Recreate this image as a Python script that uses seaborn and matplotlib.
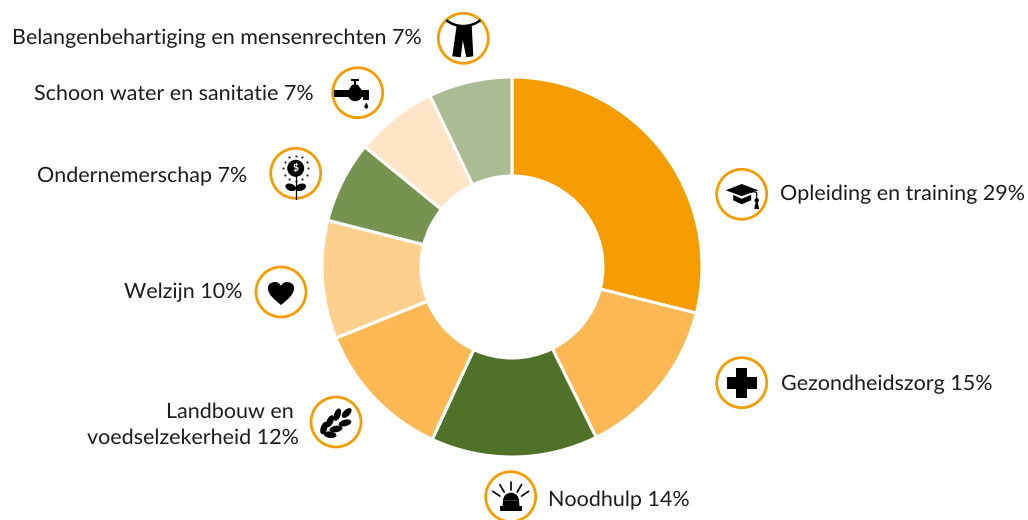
import numpy as np
import matplotlib
matplotlib.use("Agg")
import matplotlib.pyplot as plt
from matplotlib.patches import Circle, Polygon, Rectangle, Ellipse, Wedge, PathPatch
from matplotlib.path import Path
import seaborn as sns

categories = ["Opleiding en training", "Gezondheidszorg", "Noodhulp",
              "Landbouw en\nvoedselzekerheid", "Welzijn", "Ondernemerschap",
              "Schoon water en sanitatie", "Belangenbehartiging en mensenrechten"]
shown_pct = [29, 15, 14, 12, 10, 7, 7, 7]
shares = [28.9, 13.8, 14.2, 12.0, 10.05, 6.95, 7.0, 7.1]
colors = ["#F59D00", "#FBB853", "#4F7228", "#FBB853", "#FDD08E", "#76934F", "#FEE5C8", "#ABBB93"]
RING = "#F59D00"

sns.set_theme(style="white")
plt.rcParams["font.family"] = ["Lato", "DejaVu Sans"]
plt.rcParams["text.hinting"] = "no_hinting"
W, H = 1028, 520
fig = plt.figure(figsize=(W / 100, H / 100), dpi=100)

cx, cy, R = 512, 267, 190
ax = fig.add_axes([(cx - R) / W, 1 - (cy + R) / H, 2 * R / W, 2 * R / H])
ax.pie(shares, colors=sns.color_palette(colors), startangle=90, counterclock=False, radius=1,
       wedgeprops=dict(width=99 / 190, edgecolor="white", linewidth=2.2))
ax.set_xlim(-1, 1); ax.set_ylim(-1, 1)

ov = fig.add_axes([0, 0, 1, 1], facecolor="none")
ov.set_xlim(0, W); ov.set_ylim(H, 0); ov.axis("off")

FS = 15.47
TC = "#1c1c1c"
labels = [
    (780, 194.5, "left", f"{categories[0]} {shown_pct[0]}%"),
    (781, 384, "left", f"{categories[1]} {shown_pct[1]}%"),
    (548, 500, "left", f"{categories[2]} {shown_pct[2]}%"),
    (299, 425, "right", f"{categories[3]} {shown_pct[3]}%"),
    (242, 292, "right", f"{categories[4]} {shown_pct[4]}%"),
    (247, 176, "right", f"{categories[5]} {shown_pct[5]}%"),
    (314, 94, "right", f"{categories[6]} {shown_pct[6]}%"),
    (422, 38.5, "right", f"{categories[7]} {shown_pct[7]}%"),
]
for x, y, ha, s in labels:
    if "\n" in s:
        a, b = s.split("\n")
        ov.text(294, y - 13, a, ha="right", va="center", fontsize=FS, color=TC)
        ov.text(x, y + 13, b, ha=ha, va="center", fontsize=FS, color=TC)
    else:
        ov.text(x, y, s, ha=ha, va="center", fontsize=FS, color=TC)

centers = dict(grad=(741.7, 194.3), cross=(741.7, 382.7), siren=(510.7, 496.7), wheat=(336, 422),
               heart=(281, 292), flower=(295.7, 173.3), tap=(357.7, 92.7), scarf=(463.3, 38.3))
for c in centers.values():
    ov.add_patch(Circle(c, 25, fc="white", ec=RING, lw=2))
K = "black"
def poly(pts, c=K):
    ov.add_patch(Polygon(pts, closed=True, fc=c, ec="none"))
def rect(x0, y0, x1, y1, c=K):
    ov.add_patch(Rectangle((x0, y0), x1 - x0, y1 - y0, fc=c, ec="none"))

# graduation cap
x, y = centers["grad"]
poly([(x-16, y-4), (x, y-10.3), (x+16.6, y-4), (x, y+1.8)])
poly([(x-8.5, y+0.5), (x, y+4.5), (x+9.5, y+0.5), (x+9.5, y+6), (x, y+10), (x-8.5, y+6)])
ov.plot([x+3, x+15, x+15], [y-3.5, y-2, y+6], color=K, lw=0.8)
ov.add_patch(Circle((x+15, y+6), 2.2, fc=K, ec="none"))
poly([(x+14.2, y+7), (x+15.8, y+7), (x+17.5, y+14.7), (x+12.5, y+14.7)])

# cross
x, y = centers["cross"]
rect(x-5.7, y-15, x+5.7, y+15); rect(x-15, y-6, x+15, y+6)

# siren
x, y = centers["siren"]
rect(x-10.7, y+9.3, x+11.7, y+14.3)
ov.add_patch(Wedge((x+0.3, y+4), 8, 180, 360, fc=K, ec="none"))
poly([(x-7.7, y+4), (x+8.3, y+4), (x+8.8, y+9.5), (x-8.2, y+9.5)])
for a in (-56, -30, 0, 30, 56):
    t = np.radians(a)
    r0, r1 = 13, 21.7
    ov.plot([x+r0*np.sin(t), x+r1*np.sin(t)], [y+6.7-r0*np.cos(t), y+6.7-r1*np.cos(t)], color=K, lw=1.2)

# wheat
x, y = centers["wheat"]
for dx, dy, a, w in [(10.7, -9, -45, 12), (1.3, -7.3, -70, 13), (9, 1, -15, 13), (-6, -0.7, -65, 13),
                     (0, 7, -10, 13), (-12, 6, -70, 13), (-6, 12.7, 8, 13)]:
    ov.add_patch(Ellipse((x+dx, y+dy), w, 6.5, angle=a, fc=K, ec="none"))

# heart
x, y = centers["heart"]
heart = Path([(x, y+13), (x-6, y+8), (x-13, y+3), (x-13, y-4), (x-13, y-9), (x-8, y-10), (x-6, y-10),
              (x-3, y-10), (x-1, y-8), (x, y-6), (x+1, y-8), (x+3, y-10), (x+6, y-10),
              (x+8, y-10), (x+13, y-9), (x+13, y-4), (x+13, y+3), (x+6, y+8), (x, y+13)],
             [Path.MOVETO] + [Path.CURVE4] * 18)
ov.add_patch(PathPatch(heart, fc=K, ec="none"))

# flower with coin
x, y = centers["flower"]
ov.add_patch(Circle((x, y-5), 8.5, fc=K, ec="none"))
ov.text(x, y-5, "$", ha="center", va="center", color="white", fontsize=7.5, fontweight="bold")
for a in np.arange(0, 360, 30):
    t = np.radians(a)
    ov.plot([x+12.5*np.cos(t)], [y-5+12.5*np.sin(t)], ".", color=K, ms=1.0)
ov.plot([x, x], [y+3, y+25.5], color=K, lw=0.9)
ov.add_patch(Ellipse((x-5, y+14), 11, 7, angle=20, fc=K, ec="none"))
ov.add_patch(Ellipse((x+5, y+14), 11, 7, angle=-20, fc=K, ec="none"))

# tap
x, y = centers["tap"]
rect(x-23.7, y-2.7, x+11.5, y+4)
rect(x+5, y+1, x+11.5, y+7.5)
ov.add_patch(Wedge((x-2.5, y+1), 7.5, 0, 180, fc=K, ec="none"))
poly([(x-5.5, y-8), (x, y-8), (x+4, y-2.7), (x-9, y-2.7)])
rect(x-7, y-13.4, x+1.6, y-11.4)
rect(x-3.7, y-12, x-1.7, y-7)
ov.add_patch(Circle((x+8.6, y+14), 1.9, fc=K, ec="none"))
poly([(x+6.9, y+13.5), (x+8.6, y+9.5), (x+10.3, y+13.5)])

# scarf
x, y = centers["scarf"]
ov.add_patch(Wedge((x, y-40), 29, 52, 128, width=2.5, fc=K, ec="none"))
poly([(x-6.6, y-13), (x+8.4, y-13), (x+10, y+18), (x+3, y+19), (x-0.5, y+2), (x-2.5, y+19), (x-11, y+18)])

fig.savefig("out.png", dpi=100, facecolor="white")
